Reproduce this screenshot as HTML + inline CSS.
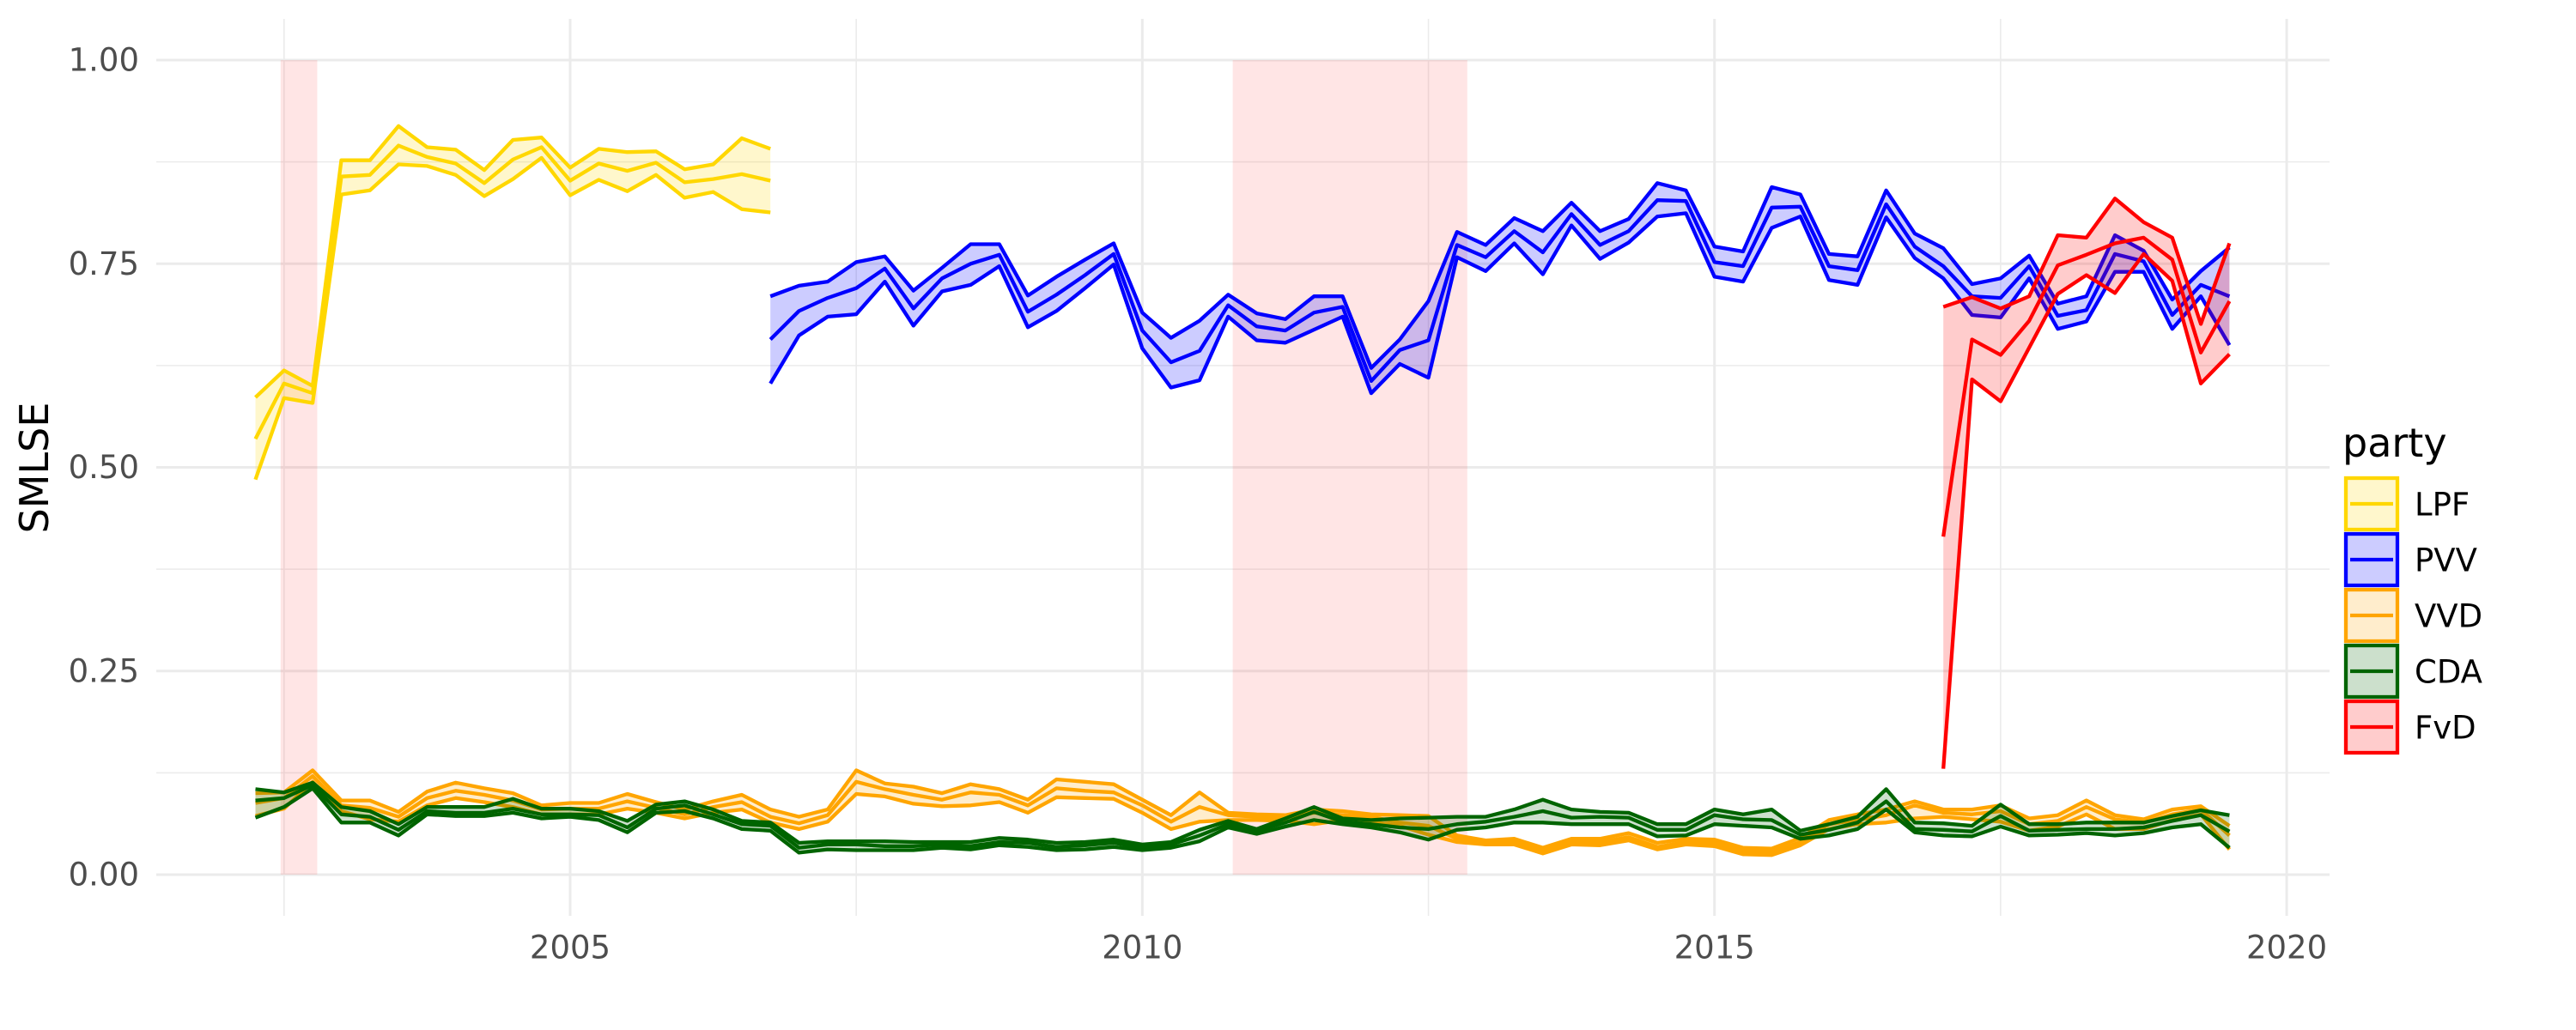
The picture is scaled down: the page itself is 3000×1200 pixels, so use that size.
<!DOCTYPE html>
<html><head><meta charset="utf-8"><style>
html,body{margin:0;padding:0;background:#fff;}
svg{display:block;font-family:"DejaVu Sans","Liberation Sans",sans-serif;}
</style></head><body>
<svg id="chart" width="3000" height="1200" viewBox="0 0 3000 1200" xmlns="http://www.w3.org/2000/svg">
<rect x="0" y="0" width="3000" height="1200" fill="#fff"/>
<g id="grid"></g>
<g id="shade"></g>
<g id="series"></g>
<g id="axes"></g>
<text x="40" y="545" transform="rotate(-90 40 545)" text-anchor="middle" dominant-baseline="central" font-size="46" fill="#000">SMLSE</text>
<g id="legend">
<text x="2728" y="532" font-size="46" fill="#000">party</text>
</g>
</svg>
<script>
const xTicks = [2005, 2010, 2015, 2020];
const xMinor = [2002.5, 2007.5, 2012.5, 2017.5];
const yTicks = [0, 0.25, 0.5, 0.75, 1.0];
const yTickLabels = ["0.00", "0.25", "0.50", "0.75", "1.00"];
const yMinor = [0.125, 0.375, 0.625, 0.875];
const shadeStart = [2002.47, 2010.79];
const shadeEnd = [2002.79, 2012.84];

const parties = ["LPF", "PVV", "VVD", "CDA", "FvD"];
const partyColors = ["#FFD700", "#0000FF", "#FFA500", "#006400", "#FF0000"];
const partyStart = [2002.25, 2006.75, 2002.25, 2002.25, 2017];

const lpfUpper = [.586,.619,.600,.877,.877,.919,.893,.890,.865,.902,.905,.868,.891,.887,.888,.866,.872,.904,.891];
const lpfMid   = [.535,.603,.591,.857,.859,.895,.881,.873,.849,.878,.893,.852,.873,.864,.874,.850,.854,.860,.852];
const lpfLower = [.485,.585,.579,.835,.840,.872,.870,.859,.833,.854,.880,.834,.853,.839,.859,.831,.838,.817,.813];

const pvvUpper = [.710,.723,.728,.752,.759,.717,.745,.774,.774,.711,.734,.755,.775,.690,.659,.680,.712,.689,.682,.710,.710,.622,.657,.704,.789,.773,.806,.790,.825,.790,.805,.849,.840,.771,.765,.844,.835,.762,.759,.840,.787,.769,.725,.732,.760,.701,.710,.785,.766,.706,.741,.770];
const pvvMid   = [.657,.692,.708,.720,.744,.695,.732,.750,.761,.691,.712,.736,.762,.668,.629,.643,.699,.673,.668,.690,.697,.606,.644,.656,.773,.758,.790,.764,.811,.773,.790,.828,.827,.752,.747,.819,.820,.747,.742,.823,.771,.747,.710,.708,.747,.686,.693,.762,.753,.687,.724,.710];
const pvvLower = [.603,.662,.685,.688,.728,.674,.716,.724,.747,.672,.692,.720,.749,.646,.598,.607,.685,.656,.653,.669,.685,.591,.627,.610,.758,.741,.775,.737,.797,.756,.776,.808,.812,.734,.728,.794,.808,.730,.724,.807,.757,.732,.687,.684,.732,.670,.679,.740,.740,.670,.710,.650];

const vvdUpper = [.100,.101,.128,.091,.091,.077,.102,.113,.106,.100,.085,.088,.088,.099,.089,.080,.090,.098,.080,.071,.080,.128,.112,.108,.100,.111,.105,.092,.117,.114,.111,.092,.073,.101,.076,.074,.073,.080,.078,.074,.073,.072,.048,.042,.044,.033,.044,.044,.051,.039,.044,.043,.033,.032,.045,.067,.074,.080,.090,.080,.080,.085,.069,.073,.091,.073,.068,.080,.084,.060];
const vvdMid   = [.088,.094,.121,.085,.082,.071,.094,.103,.098,.091,.080,.081,.081,.090,.082,.074,.083,.089,.071,.063,.073,.114,.105,.098,.092,.101,.098,.085,.106,.103,.101,.085,.065,.083,.073,.071,.070,.076,.073,.071,.064,.060,.044,.040,.040,.030,.040,.040,.046,.034,.040,.039,.029,.028,.040,.062,.067,.073,.085,.076,.074,.078,.062,.066,.083,.068,.064,.074,.080,.048];
const vvdLower = [.072,.081,.114,.078,.068,.065,.085,.094,.089,.083,.074,.074,.074,.081,.076,.069,.076,.080,.064,.056,.065,.099,.096,.087,.084,.085,.089,.076,.095,.094,.093,.076,.056,.065,.067,.067,.066,.062,.067,.065,.060,.049,.040,.037,.037,.026,.037,.036,.042,.031,.037,.035,.025,.024,.036,.056,.062,.064,.069,.071,.068,.065,.054,.059,.074,.056,.056,.067,.074,.031];

const cdaUpper = [.105,.101,.113,.083,.078,.062,.083,.083,.083,.093,.081,.081,.078,.066,.086,.090,.080,.066,.064,.039,.041,.041,.041,.040,.040,.040,.045,.043,.039,.040,.043,.037,.040,.055,.066,.056,.069,.083,.069,.067,.069,.070,.071,.071,.080,.092,.080,.077,.076,.062,.062,.080,.074,.080,.054,.062,.071,.105,.064,.063,.060,.086,.062,.062,.064,.064,.064,.072,.079,.073];
const cdaMid   = [.091,.094,.110,.074,.071,.055,.078,.076,.076,.081,.074,.074,.073,.058,.081,.085,.074,.062,.060,.033,.037,.037,.035,.035,.037,.035,.040,.039,.034,.036,.039,.033,.037,.048,.062,.054,.064,.077,.065,.062,.058,.056,.062,.065,.071,.078,.070,.071,.070,.055,.055,.073,.068,.067,.049,.055,.064,.090,.056,.055,.053,.072,.054,.055,.056,.056,.058,.066,.073,.053];
const cdaLower = [.070,.083,.106,.064,.064,.048,.074,.072,.072,.076,.069,.071,.067,.052,.076,.078,.069,.056,.054,.027,.031,.030,.030,.030,.033,.031,.036,.034,.030,.031,.034,.030,.033,.041,.058,.050,.059,.067,.062,.058,.052,.043,.055,.058,.064,.064,.062,.062,.062,.047,.048,.062,.060,.058,.044,.048,.056,.080,.052,.048,.047,.059,.048,.049,.051,.048,.051,.058,.062,.033];

const fvdUpper = [.697,.709,.695,.710,.785,.782,.830,.801,.782,.676,.775];
const fvdMid   = [.415,.657,.638,.680,.748,.761,.775,.782,.755,.641,.704];
const fvdLower = [.130,.608,.581,.647,.713,.736,.714,.762,.729,.603,.639];

const upperData = [lpfUpper, pvvUpper, vvdUpper, cdaUpper, fvdUpper];
const midData = [lpfMid, pvvMid, vvdMid, cdaMid, fvdMid];
const lowerData = [lpfLower, pvvLower, vvdLower, cdaLower, fvdLower];

const NS = "http://www.w3.org/2000/svg";
const PL = 182, PR = 2713, PT = 22, PB = 1067;
function xScale(yr){ return 664 + (yr - 2005) * 133.27; }
function yScale(v){ return 1019 - v * 949; }
function mk(tag, attrs, parent){
  const e = document.createElementNS(NS, tag);
  for (const k in attrs) e.setAttribute(k, attrs[k]);
  parent.appendChild(e);
  return e;
}
const grid = document.getElementById('grid');
yMinor.forEach(v => {
  const l = mk('line', {x1:PL, x2:PR, y1:yScale(v), y2:yScale(v), stroke:'#ebebeb', 'stroke-width':1.6}, grid);
  
  
});
xMinor.forEach(v => {
  const l = mk('line', {x1:xScale(v), x2:xScale(v), y1:PT, y2:PB, stroke:'#ebebeb', 'stroke-width':1.6}, grid);
  
  
});
yTicks.forEach(v => {
  const l = mk('line', {x1:PL, x2:PR, y1:yScale(v), y2:yScale(v), stroke:'#ebebeb', 'stroke-width':3}, grid);
  
  
});
xTicks.forEach(v => {
  const l = mk('line', {x1:xScale(v), x2:xScale(v), y1:PT, y2:PB, stroke:'#ebebeb', 'stroke-width':3}, grid);
  
  
});
const shade = document.getElementById('shade');
shadeStart.forEach((s, i) => {
  const r = mk('rect', {x:xScale(s), y:yScale(1), width:xScale(shadeEnd[i]) - xScale(s), height:yScale(0) - yScale(1), fill:'#FF0000', 'fill-opacity':0.1}, shade);
  
  
});
const axes = document.getElementById('axes');
yTicks.forEach((v, i) => {
  const t = mk('text', {x:162, y:yScale(v), 'text-anchor':'end', 'dominant-baseline':'central', 'font-size':37, fill:'#4d4d4d'}, axes);
  t.textContent = yTickLabels[i];
  
  
});
xTicks.forEach(v => {
  const t = mk('text', {x:xScale(v), y:1104, 'text-anchor':'middle', 'dominant-baseline':'central', 'font-size':37, fill:'#4d4d4d'}, axes);
  t.textContent = String(v);
  
  
});
const series = document.getElementById('series');
function pts(arr, start){ return arr.map((v, i) => xScale(start + i * 0.25).toFixed(1) + ',' + yScale(v).toFixed(1)); }
parties.forEach((p, k) => {
  const g = mk('g', {}, series);
  
  
  const up = pts(upperData[k], partyStart[k]);
  const lo = pts(lowerData[k], partyStart[k]);
  const poly = mk('polygon', {points: up.concat(lo.slice().reverse()).join(' '), fill: partyColors[k], 'fill-opacity': 0.2}, g);
  
  
  [[upperData[k], 'upper'], [midData[k], 'mid'], [lowerData[k], 'lower']].forEach(([arr, nm]) => {
    const pl = mk('polyline', {points: pts(arr, partyStart[k]).join(' '), fill:'none', stroke: partyColors[k], 'stroke-width':4.3, 'stroke-linejoin':'round'}, g);
    
    
  });
});
const legend = document.getElementById('legend');
parties.forEach((p, k) => {
  const y0 = 555 + k * 65;
  const g = mk('g', {}, legend);
  
  
  const r = mk('rect', {x:2732, y:y0 + 2, width:60, height:60, fill:partyColors[k], 'fill-opacity':0.2, stroke:partyColors[k], 'stroke-width':4.3}, g);
  
  
  const l = mk('line', {x1:2737, x2:2787, y1:y0 + 32, y2:y0 + 32, stroke:partyColors[k], 'stroke-width':4.3}, g);
  
  
  const t = mk('text', {x:2812, y:y0 + 33, 'dominant-baseline':'central', 'font-size':37, fill:'#000'}, g);
  t.textContent = p;
  
  
});
</script>
</body></html>
